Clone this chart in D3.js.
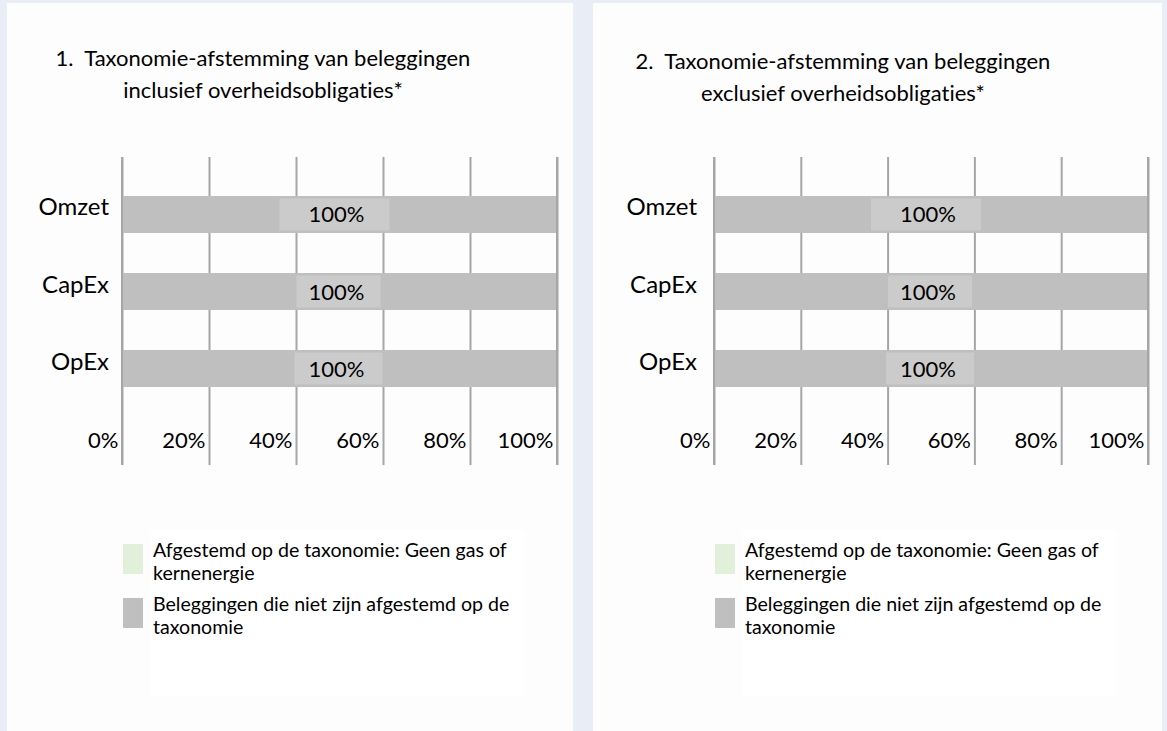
<!DOCTYPE html>
<html>
<head>
<meta charset="utf-8">
<script src="https://cdn.jsdelivr.net/npm/d3@7"></script>
<style>
  html, body { margin: 0; padding: 0; background: #e9edf6; }
  svg { display: block; }
  text { font-variant-ligatures: none; }
</style>
</head>
<body>
<svg id="chart" width="1167" height="731"></svg>
<script>
// ===== Data =====
const categories   = ['Omzet', 'CapEx', 'OpEx'];
const tickValues   = [0, 20, 40, 60, 80, 100];
const alignedIncl  = [0, 0, 0];
const otherIncl    = [100, 100, 100];
const alignedExcl  = [0, 0, 0];
const otherExcl    = [100, 100, 100];
const titleIncl    = ['1.  Taxonomie-afstemming van beleggingen', 'inclusief overheidsobligaties*'];
const titleExcl    = ['2.  Taxonomie-afstemming van beleggingen', 'exclusief overheidsobligaties*'];
const legendLabels = [
    ['Afgestemd op de taxonomie: Geen gas of', 'kernenergie'],
    ['Beleggingen die niet zijn afgestemd op de', 'taxonomie']
];
const seriesKeys   = ['aligned', 'other'];

// ===== Styles / layout =====
const fontFamily = 'Lato, "Open Sans", sans-serif';
const colors     = { aligned: '#e2efda', other: '#bfbfbf' };
const labelBoxW  = [110, 84, 88];

const panels = [
    { px: 7,   pw: 566, x0: 122, x1: 557,  titleX: 263, titleY: 66, catGap: 13,
      title: titleIncl, aligned: alignedIncl, other: otherIncl },
    { px: 593, pw: 569, x0: 714, x1: 1148, titleX: 843, titleY: 69, catGap: 17,
      title: titleExcl, aligned: alignedExcl, other: otherExcl }
];

const gridTop    = 157;
const gridBottom = 465;
const svg = d3.select('#chart');

panels.forEach(p => {
    const g = svg.append('g');

    // --- Panel card ---
    g.append('rect')
        .attr('x', p.px).attr('y', 3)
        .attr('width', p.pw).attr('height', 740)
        .attr('fill', '#fdfdfd');

    // --- Title (two lines, centred) ---
    g.selectAll('text.title')
        .data(p.title)
        .join('text')
        .attr('class', 'title')
        .attr('x', p.titleX)
        .attr('y', (d, i) => p.titleY + i * 32)
        .attr('text-anchor', 'middle')
        .style('white-space', 'pre')
        .style('font-family', fontFamily)
        .style('font-size', '22px')
        .style('fill', '#000')
        .text(d => d);

    // --- Scales ---
    const x = d3.scaleLinear().domain([0, 100]).range([p.x0, p.x1]);
    const y = d3.scaleBand().domain(categories)
        .range([157.5, 425.5])
        .paddingInner(0.52).paddingOuter(0.5);

    // --- Gridlines + tick labels (labels sit left of each line) ---
    const xAxis = g.append('g')
        .attr('transform', `translate(0,${gridBottom})`)
        .call(d3.axisBottom(x)
            .tickValues(tickValues)
            .tickFormat(d => d + '%')
            .tickSize(-(gridBottom - gridTop)));
    xAxis.select('.domain').remove();
    xAxis.selectAll('.tick line')
        .attr('stroke', '#a6a6a6')
        .attr('stroke-width', 2);
    xAxis.selectAll('.tick text')
        .attr('x', -4)
        .attr('y', -17)
        .attr('dy', 0)
        .attr('text-anchor', 'end')
        .style('font-family', fontFamily)
        .style('font-size', '22px')
        .style('fill', '#000');

    // --- Stacked bars ---
    const rows = categories.map((c, i) => ({ cat: c, aligned: p.aligned[i], other: p.other[i] }));
    const stacked = d3.stack().keys(seriesKeys)(rows);

    g.selectAll('g.series')
        .data(stacked)
        .join('g')
        .attr('class', 'series')
        .attr('fill', d => colors[d.key])
        .selectAll('rect')
        .data(d => d)
        .join('rect')
        .attr('x', d => x(d[0]))
        .attr('y', d => y(d.data.cat))
        .attr('width', d => x(d[1]) - x(d[0]))
        .attr('height', y.bandwidth());

    // edge gridlines stay visible over the bars
    g.selectAll('line.edge')
        .data([0, 100])
        .join('line')
        .attr('class', 'edge')
        .attr('x1', d => x(d)).attr('x2', d => x(d))
        .attr('y1', gridTop).attr('y2', gridBottom)
        .attr('stroke', '#a6a6a6')
        .attr('stroke-width', 2);

    // --- Data labels (boxed) ---
    const other = stacked.find(s => s.key === 'other');
    other.forEach((d, i) => {
        const val = d[1] - d[0];
        if (val <= 0) return;
        const lx = x((d[0] + d[1]) / 2) - 3;
        const cy = y(d.data.cat) + y.bandwidth() / 2;
        g.append('rect')
            .attr('x', lx - labelBoxW[i] / 2 + (i === 0 ? -2 : 2))
            .attr('y', cy - 16)
            .attr('width', labelBoxW[i])
            .attr('height', 32)
            .attr('fill', '#cbcbcb');
        g.append('text')
            .attr('x', lx)
            .attr('y', cy + 8)
            .attr('text-anchor', 'middle')
            .style('font-family', fontFamily)
            .style('font-size', '22px')
            .style('fill', '#000')
            .text(val + '%');
    });

    // --- Category labels ---
    g.selectAll('text.cat')
        .data(categories)
        .join('text')
        .attr('class', 'cat')
        .attr('x', p.x0 - p.catGap)
        .attr('y', d => y(d) + y.bandwidth() / 2 + 1)
        .attr('text-anchor', 'end')
        .style('font-family', fontFamily)
        .style('font-size', '24px')
        .style('fill', '#000')
        .text(d => d);

    // --- Legend ---
    const legend = g.append('g')
        .attr('transform', `translate(${p.x0 + 1},544)`);
    legend.append('rect')
        .attr('x', 27).attr('y', -14)
        .attr('width', 374).attr('height', 166)
        .attr('fill', '#ffffff');
    const items = legend.selectAll('g.item')
        .data(seriesKeys)
        .join('g')
        .attr('class', 'item')
        .attr('transform', (d, i) => `translate(0,${i * 54})`);
    items.append('rect')
        .attr('width', 20).attr('height', 30)
        .attr('fill', d => colors[d]);
    items.selectAll('text')
        .data((d, i) => legendLabels[i])
        .join('text')
        .attr('x', 30)
        .attr('y', (d, j) => 13 + j * 23)
        .style('font-family', fontFamily)
        .style('font-size', '19.6px')
        .style('fill', '#000')
        .text(d => d);
});
</script>
</body>
</html>
